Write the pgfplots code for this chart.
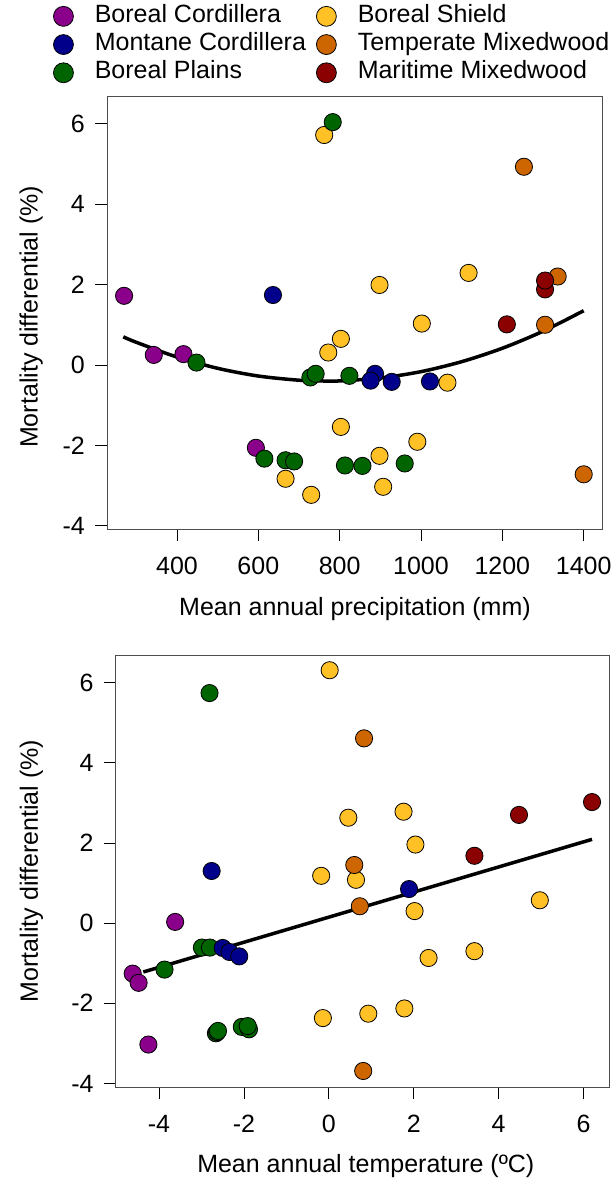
\documentclass[border=0pt]{standalone}
\usepackage{pgfplots}
\pgfplotsset{compat=1.18}
\usepackage{fontspec}
\setmainfont{Liberation Sans}
\definecolor{cbc}{RGB}{139,0,139}
\definecolor{cmc}{RGB}{0,0,139}
\definecolor{cbp}{RGB}{0,100,0}
\definecolor{cbs}{RGB}{255,193,37}
\definecolor{ctm}{RGB}{205,102,0}
\definecolor{cmm}{RGB}{139,0,0}
\newcommand{\bigfont}{\fontsize{25}{30}\selectfont}
\pgfplotsset{
  myaxis/.style={
    scale only axis,
    axis line style={black!70, line width=0.8pt},
    tick style={black, line width=0.8pt},
    tick align=outside,
    major tick length=12pt,
    tick pos=left,
    /pgf/number format/assume math mode=true,
    /pgf/number format/1000 sep={},
    every tick label/.append style={font=\bigfont},
    ytick={-4,-2,0,2,4,6},
    yticklabel style={anchor=east, inner sep=0pt},
    yticklabel shift=10pt,
    xticklabel style={anchor=base, inner sep=0pt},
    xticklabel shift=33pt,
    pt/.style={only marks, mark=*, mark size=8.6pt, mark options={draw=black, line width=0.8pt, fill=##1}, forget plot},
  },
  leg/.style={legend image code/.code={\node[circle, draw=black, line width=0.8pt, fill=#1, minimum size=19pt, inner sep=0pt] at (0pt,0pt) {};}},
}
\begin{document}
\begin{tikzpicture}
\useasboundingbox (0pt,0pt) rectangle (613pt,-1183pt);
% ---------------- top panel ----------------
\begin{axis}[myaxis,
  at={(107pt,-529pt)}, anchor=south west,
  width=495pt, height=433pt,
  xmin=228, xmax=1445, ymin=-4.08, ymax=6.69,
  xtick={400,600,800,1000,1200,1400},
  xlabel={Mean annual precipitation (mm)},
  ylabel={Mortality differential (\%)},
  every axis x label/.style={at={(axis description cs:0.501,-0.2009)}, anchor=base, font=\bigfont},
  every axis y label/.style={at={(axis description cs:-0.140,0.49)}, rotate=90, anchor=base, font=\bigfont},
  legend style={at={(axis description cs:-0.1089,1.2079)}, anchor=north west,
    draw=none, fill=none, inner sep=0pt, outer sep=0pt, legend columns=2,
    font=\bigfont, row sep=7.5pt,
    nodes={inner sep=0pt, text height=16pt, text depth=4pt},
    /tikz/every odd column/.append style={column sep=21pt},
    /tikz/every even column/.append style={column sep=10pt}},
  legend cell align=left,
]
\addlegendimage{leg=cbc}\addlegendentry{Boreal Cordillera}
\addlegendimage{leg=cbs}\addlegendentry{Boreal Shield}
\addlegendimage{leg=cmc}\addlegendentry{Montane Cordillera}
\addlegendimage{leg=ctm}\addlegendentry{Temperate Mixedwood}
\addlegendimage{leg=cbp}\addlegendentry{Boreal Plains}
\addlegendimage{leg=cmm}\addlegendentry{Maritime Mixedwood}
\addplot[black, line width=3.5pt, forget plot, smooth] coordinates {
 (268,0.70) (300,0.564) (400,0.197) (500,-0.083) (600,-0.275) (700,-0.379)
 (769,-0.40) (800,-0.396) (900,-0.324) (1000,-0.166) (1100,0.082)
 (1200,0.416) (1300,0.839) (1400,1.350)};
\addplot[pt=cbc] coordinates {(270,1.72) (343,0.25) (416,0.27) (594,-2.06)};
\addplot[pt=cbs] coordinates {(762,5.72) (803,0.65) (772,0.31) (898,1.99) (1117,2.29)
 (1002,1.03) (1065,-0.44) (803,-1.54) (991,-1.91) (898,-2.26) (907,-3.03) (667,-2.83) (730,-3.23)};
\addplot[pt=cbp] coordinates {(783,6.04) (448,0.06) (728,-0.31) (741,-0.22) (824,-0.27)
 (615,-2.33) (667,-2.37) (688,-2.40) (813,-2.50) (856,-2.51) (960,-2.45)};
\addplot[pt=cmc] coordinates {(636,1.74) (887,-0.22) (876,-0.39) (928,-0.42) (1022,-0.41)};
\addplot[pt=ctm] coordinates {(1253,4.93) (1336,2.20) (1305,1.00) (1400,-2.72)};
\addplot[pt=cmm] coordinates {(1305,1.88) (1305,2.10) (1211,1.01)};
\end{axis}
% ---------------- bottom panel ----------------
\begin{axis}[myaxis,
  at={(115.7pt,-1087pt)}, anchor=south west,
  width=493.3pt, height=432pt,
  xmin=-5.02, xmax=6.60, ymin=-4.09, ymax=6.69,
  xtick={-4,-2,0,2,4,6},
  xlabel={Mean annual temperature (ºC)},
  ylabel={Mortality differential (\%)},
  every axis x label/.style={at={(axis description cs:0.507,-0.199)}, anchor=base, font=\bigfont},
  every axis y label/.style={at={(axis description cs:-0.158,0.5)}, rotate=90, anchor=base, font=\bigfont},
]
\addplot[black, line width=3.5pt, forget plot] coordinates {(-4.37,-1.22) (6.20,2.09)};
\addplot[pt=cbc] coordinates {(-4.62,-1.26) (-4.48,-1.49) (-3.62,0.03) (-4.25,-3.03)};
\addplot[pt=cbs] coordinates {(0.02,6.31) (0.46,2.63) (1.76,2.78) (2.04,1.96) (-0.18,1.18)
 (0.64,1.08) (2.02,0.30) (4.97,0.57) (3.43,-0.70) (2.35,-0.87) (-0.14,-2.37) (0.93,-2.26) (1.78,-2.13)};
\addplot[pt=cbp] coordinates {(-2.81,5.74) (-3.87,-1.16) (-2.99,-0.61) (-2.80,-0.61)
 (-2.66,-2.75) (-2.63,-2.72) (-2.61,-2.69) (-2.05,-2.59) (-1.88,-2.65) (-1.91,-2.57)};
\addplot[pt=cmc] coordinates {(-2.76,1.30) (-2.50,-0.62) (-2.34,-0.72) (-2.11,-0.83) (1.89,0.85)};
\addplot[pt=ctm] coordinates {(0.83,4.61) (0.60,1.45) (0.73,0.42) (0.81,-3.69)};
\addplot[pt=cmm] coordinates {(6.20,3.02) (4.48,2.70) (3.43,1.68)};
\end{axis}
\end{tikzpicture}
\end{document}
